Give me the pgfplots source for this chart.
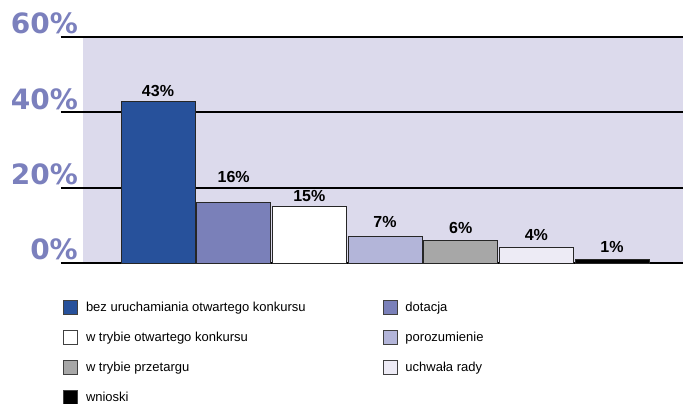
\documentclass[border=0pt]{standalone}
\usepackage{fontspec}
\setmainfont{Liberation Sans}
\newfontfamily\tickfont{DejaVu Sans}
\usepackage{pgfplots}
\pgfplotsset{compat=1.18}
\definecolor{plotbg}{HTML}{DCDAEC}
\definecolor{tickblue}{HTML}{7B80BD}
\definecolor{cA}{HTML}{27519B}
\definecolor{cB}{HTML}{7A80B9}
\definecolor{cC}{HTML}{FFFFFF}
\definecolor{cD}{HTML}{B3B5D9}
\definecolor{cE}{HTML}{A7A7A7}
\definecolor{cF}{HTML}{EDEBF5}
\definecolor{cG}{HTML}{000000}

\begin{document}
\begin{tikzpicture}
\useasboundingbox (0,0) rectangle (683pt,404pt);
\begin{axis}[
  at={(83pt,141pt)}, anchor=south west,
  scale only axis, width=600pt, height=226pt,
  xmin=-0.991, xmax=6.938, ymin=0, ymax=60,
  clip=false,
  axis line style={draw=none},
  axis background/.style={fill=plotbg},
  xtick=\empty,
  ytick={0,20,40,60},
  yticklabels={0\%,20\%,40\%,60\%},
  tick align=outside,
  major tick length=22pt,
  ytick style={black, line width=1.8pt},
  ymajorgrids,
  grid style={black, line width=1.8pt},
  major grid style={black, line width=1.8pt},
  extra y ticks={60},
  extra y tick labels={},
  extra y tick style={major grid style={black, line width=2.4pt}, tick style={black, line width=2.4pt}},
  yticklabel style={font=\tickfont\bfseries\fontsize{28}{28}\selectfont, text=tickblue,
    anchor=base east, inner sep=0pt, xshift=17pt, yshift=3pt},
  ybar, bar width=0.978, bar shift=0pt,
  nodes near coords={\pgfmathprintnumber[assume math mode=true]{\pgfplotspointmeta}\%},
  nodes near coords style={font=\bfseries\fontsize{16}{16}\selectfont, text=black, anchor=south, yshift=1pt},
  every axis plot/.append style={draw=black!85, line width=0.9pt},
  legend columns=2,
  legend cell align=left,
  legend image code/.code={\draw[#1, draw=black!75, line width=0.8pt] (0pt,-7pt) rectangle (14pt,7pt);},
  legend style={at={(0,0)}, anchor=north west, xshift=-20pt, yshift=-37pt,
    draw=none, fill=none, inner sep=0pt,
    font=\fontsize{13}{14}\selectfont, row sep=15pt,
    /tikz/every even column/.append style={column sep=75pt},
    /tikz/every odd column/.append style={column sep=6pt}},
]
\addplot[fill=cA] coordinates {(0,43)};
\addlegendentry{bez uruchamiania otwartego konkursu}
\addplot[fill=cB, nodes near coords style={yshift=15pt}] coordinates {(1,16)};
\addlegendentry{dotacja}
\addplot[fill=cC] coordinates {(2,15)};
\addlegendentry{w trybie otwartego konkursu}
\addplot[fill=cD, nodes near coords style={yshift=4pt}] coordinates {(3,7)};
\addlegendentry{porozumienie}
\addplot[fill=cE, nodes near coords style={yshift=2pt}] coordinates {(4,6)};
\addlegendentry{w trybie przetargu}
\addplot[fill=cF, nodes near coords style={yshift=3pt}] coordinates {(5,4)};
\addlegendentry{uchwała rady}
\addplot[fill=cG, nodes near coords style={yshift=2pt}] coordinates {(6,1)};
\addlegendentry{wnioski}
\end{axis}
\end{tikzpicture}
\end{document}
